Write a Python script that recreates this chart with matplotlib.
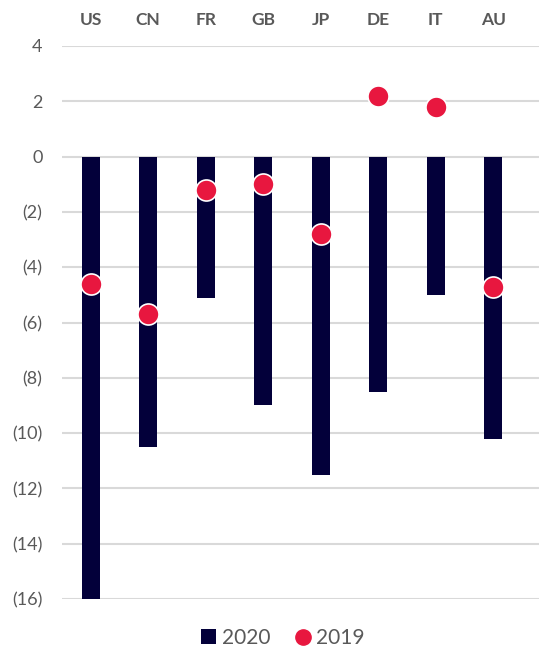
import matplotlib.pyplot as plt
from matplotlib.ticker import FuncFormatter, FixedLocator
from matplotlib.lines import Line2D
from matplotlib.patches import Patch

countries = ["US", "CN", "FR", "GB", "JP", "DE", "IT", "AU"]
values_2020 = [-16.0, -10.5, -5.1, -9.0, -11.5, -8.5, -5.0, -10.2]
values_2019 = [-4.6, -5.7, -1.2, -1.0, -2.8, 2.2, 1.8, -4.7]
y_ticks = [4, 2, 0, -2, -4, -6, -8, -10, -12, -14, -16]

navy = "#03003A"
red = "#E8173F"
grey = "#595959"

plt.rcParams['font.family'] = ['Lato', 'DejaVu Sans']

W, H = 539, 652
fig = plt.figure(figsize=(W / 100, H / 100), dpi=100)
ax = fig.add_axes([62 / W, 1 - 599 / H, (W - 62) / W, (599 - 46) / H])

x = list(range(len(countries)))
ax.bar(x, values_2020, width=0.31, color=navy, zorder=2, label="2020")
ax.scatter(x, values_2019, s=230, color=red, edgecolor="white", linewidth=1.2,
           zorder=3, label="2019")

ax.set_ylim(-16, 4)
ax.set_xlim(-0.5, -0.5 + (W - 62) / 57.5)
ax.yaxis.set_major_locator(FixedLocator(y_ticks))
ax.yaxis.set_major_formatter(FuncFormatter(
    lambda v, p: f"({abs(v):.0f})" if v < 0 else f"{v:.0f}"))
ax.grid(axis="y", color="#D9D9D9", linewidth=1.5, zorder=0)
for s in ax.spines.values():
    s.set_visible(False)
ax.tick_params(axis="y", length=0, pad=14, labelsize=13, labelcolor=grey)

ax.xaxis.tick_top()
ax.set_xticks(x)
ax.set_xticklabels(countries, fontweight="bold")
ax.tick_params(axis="x", length=0, pad=13, labelsize=12.5, labelcolor=grey)

handles = [Patch(facecolor=navy, label="2020"),
           Line2D([], [], marker="o", linestyle="none", markersize=11,
                  markerfacecolor=red, markeredgecolor=red, label="2019")]
fig.legend(handles=handles, loc="center", bbox_to_anchor=(0.525, 1 - 638 / H),
           ncol=2, frameon=False, fontsize=15, labelcolor=grey,
           handlelength=0.7, handleheight=0.7, handletextpad=0.3,
           columnspacing=1.2)

fig.savefig("out.png", dpi=100)
